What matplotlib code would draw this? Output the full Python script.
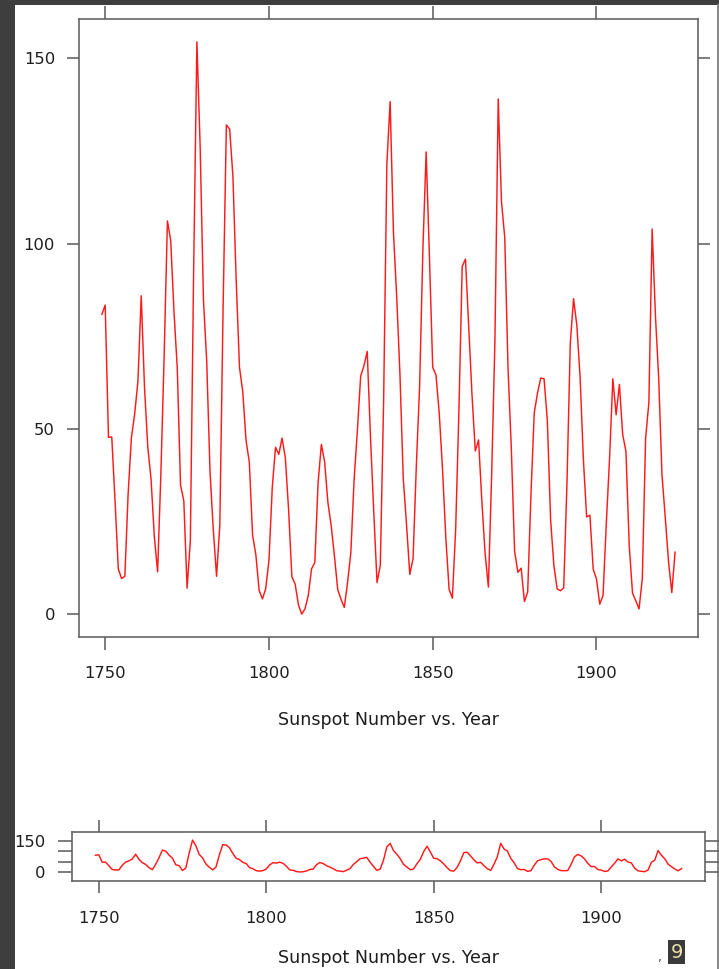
import numpy as np
import matplotlib.pyplot as plt
from matplotlib.patches import Rectangle

# yearly sunspot numbers, 1749 .. 1924
years = np.arange(1749, 1925)
sunspots = [
    80.9,
    83.4, 47.7, 47.8, 30.7, 12.2, 9.6, 10.2, 32.4, 47.6, 54.0,
    62.9, 85.9, 61.2, 45.1, 36.4, 20.9, 11.4, 37.8, 69.8, 106.1,
    100.8, 81.6, 66.5, 34.8, 30.6, 7.0, 19.8, 92.5, 154.4, 125.9,
    84.8, 68.1, 38.5, 22.8, 10.2, 24.1, 82.9, 132.0, 130.9, 118.1,
    89.9, 66.6, 60.0, 46.9, 41.0, 21.3, 16.0, 6.4, 4.1, 6.8,
    14.5, 34.0, 45.0, 43.1, 47.5, 42.2, 28.1, 10.1, 8.1, 2.5,
    0.0, 1.4, 5.0, 12.2, 13.9, 35.4, 45.8, 41.1, 30.1, 23.9,
    15.6, 6.6, 4.0, 1.8, 8.5, 16.6, 36.3, 49.6, 64.2, 67.0,
    70.9, 47.8, 27.5, 8.5, 13.2, 56.9, 121.5, 138.3, 103.2, 85.7,
    64.6, 36.7, 24.2, 10.7, 15.0, 40.1, 61.5, 98.5, 124.7, 96.3,
    66.6, 64.5, 54.1, 39.0, 20.6, 6.7, 4.3, 22.7, 54.8, 93.8,
    95.8, 77.2, 59.1, 44.0, 47.0, 30.5, 16.3, 7.3, 37.6, 74.0,
    139.0, 111.2, 101.6, 66.2, 44.7, 17.0, 11.3, 12.4, 3.4, 6.0,
    32.3, 54.3, 59.7, 63.7, 63.5, 52.2, 25.4, 13.1, 6.8, 6.3,
    7.1, 35.6, 73.0, 85.1, 78.0, 64.0, 41.8, 26.2, 26.7, 12.1,
    9.5, 2.7, 5.0, 24.4, 42.0, 63.5, 53.8, 62.0, 48.5, 43.9,
    18.6, 5.7, 3.6, 1.4, 9.6, 47.4, 57.1, 103.9, 80.6, 63.6,
    37.6, 26.1, 14.2, 5.8, 16.7,
]
xticks = [1750, 1800, 1850, 1900]
yticks = [0, 50, 100, 150]
title = "Sunspot Number vs. Year"

W, H = 719, 969
dpi = 100
px = 72.0 / dpi   # one pixel in points

fig = plt.figure(figsize=(W / dpi, H / dpi), dpi=dpi, facecolor='#3e3e3e')
# white page inside the dark window frame (behind the axes)
fig.patches.append(Rectangle((15 / W, 0), (717 - 15) / W, (H - 5) / H,
                             transform=fig.transFigure, facecolor='white',
                             edgecolor='none', zorder=-10))
fig.add_artist(plt.Line2D([717.5 / W, 717.5 / W], [0, (H - 5) / H],
                          transform=fig.transFigure, color='#9a9a9a', lw=1.2,
                          zorder=-5))

def axes_px(x0, y0, x1, y1):
    return fig.add_axes([x0 / W, 1 - y1 / H, (x1 - x0) / W, (y1 - y0) / H])

edge = '#606060'
txt = '#1e1e1e'
fs = 11.8
tfs = 12.6

# lattice style pads the data range by 4%
xr = years.max() - years.min()
xlim = (years.min() - 0.04 * xr, years.max() + 0.04 * xr)
yr = max(sunspots) - min(sunspots)

def style(ax, ticklen):
    for s in ax.spines.values():
        s.set_color(edge)
        s.set_linewidth(1.6 * px)
    ax.tick_params(which='both', direction='out', color=edge,
                   width=1.6 * px, labelsize=fs, labelcolor=txt,
                   top=True, right=True, labeltop=False, labelright=False)
    ax.tick_params(axis='x', length=ticklen[0] * px, pad=14 * px)
    ax.tick_params(axis='y', length=ticklen[1] * px, pad=12 * px)
    ax.set_xlim(*xlim)
    ax.set_xticks(xticks)

# main panel
ax1 = axes_px(79, 19, 698, 637)
ax1.plot(years, sunspots, color='#ff1a1a', lw=1.05)
ax1.set_ylim(min(sunspots) - 0.04 * yr, max(sunspots) + 0.04 * yr)
ax1.set_yticks(yticks)
style(ax1, (13.5, 12))
ax1.tick_params(axis='x', pad=16 * px)
fig.text(389 / W, 1 - 720 / H, title, ha='center', va='center',
         fontsize=tfs, color=txt)

# small banked panel underneath
ax2 = axes_px(72, 832, 705, 881)
ax2.plot(years, sunspots, color='#ff1a1a', lw=1.05)
ax2.set_ylim(-43.5, 193.5)
ax2.set_yticks(yticks)
ax2.set_yticklabels(['0', '', '', '150'])
style(ax2, (12, 14))
ax2.tick_params(axis='x', pad=18 * px)
ax2.tick_params(axis='y', pad=13 * px)
# the reference crops this one at the bottom edge; keep it just inside
fig.text(389 / W, 1 - 958 / H, title, ha='center', va='center',
         fontsize=tfs, color=txt)

# stray bits from the screenshot corner
fig.text(660 / W, 1 - 958 / H, ',', ha='center', va='center',
         fontsize=9, color='#444444')
fig.text(676.5 / W, 1 - 952 / H, '9', ha='center', va='center',
         fontsize=14, color='#e8e2a8',
         bbox=dict(boxstyle='square,pad=0.12', facecolor='#3a3a3a',
                   edgecolor='none'))

fig.savefig('out.png', dpi=dpi, facecolor=fig.get_facecolor())
